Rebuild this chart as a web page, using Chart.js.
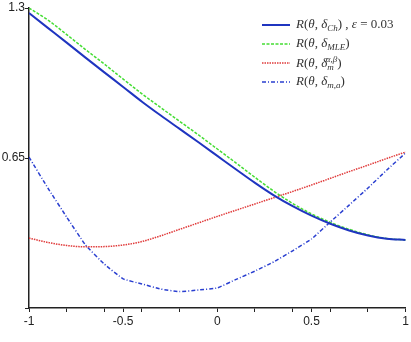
<!DOCTYPE html>
<html>
<head>
<meta charset="utf-8">
<script src="https://cdn.jsdelivr.net/npm/chart.js@4"></script>
<style>
  html, body { margin: 0; padding: 0; background: #fff; }
  #wrap { position: relative; width: 411px; height: 342px; overflow: hidden; }
  #legend { position: absolute; left: 262px; top: 15px; font-family: "Liberation Serif", serif; font-size: 13px; color: #333; }
  #legend .row { height: 19px; display: flex; align-items: center; white-space: nowrap; }
  #legend svg { margin-right: 6px; }
  #legend sub, #legend sup { font-size: 9px; }
  #legend sub { vertical-align: -3px; }
  #legend sup { vertical-align: 5px; }
</style>
</head>
<body>
<div id="wrap">
  <canvas id="chart" width="411" height="342"></canvas>
  <div id="legend">
    <div class="row"><svg width="28" height="4"><line x1="0" y1="2" x2="28" y2="2" stroke="#1f35c0" stroke-width="2"/></svg><span><i>R</i>(<i>θ</i>, <i>δ</i><sub><i>Ch</i></sub>) , <i>ε</i> = 0.03</span></div>
    <div class="row"><svg width="28" height="4"><line x1="0" y1="2" x2="28" y2="2" stroke="#44dd33" stroke-width="1.5" stroke-dasharray="3,1.5"/></svg><span><i>R</i>(<i>θ</i>, <i>δ</i><sub><i>MLE</i></sub>)</span></div>
    <div class="row"><svg width="28" height="4"><line x1="0" y1="2" x2="28" y2="2" stroke="#e03a3a" stroke-width="1.5" stroke-dasharray="1.5,1"/></svg><span><i>R</i>(<i>θ</i>, <i>δ</i><sub><i>m</i></sub><sup style="margin-left:-8px"><i>α</i>,<i>β</i></sup>)</span></div>
    <div class="row"><svg width="28" height="4"><line x1="0" y1="2" x2="28" y2="2" stroke="#2a3fd0" stroke-width="1.5" stroke-dasharray="4,2,1,2"/></svg><span><i>R</i>(<i>θ</i>, <i>δ</i><sub><i>m</i>,<i>a</i></sub>)</span></div>
  </div>
</div>
<script>
const theta = [-1, -0.9, -0.8, -0.7, -0.6, -0.5, -0.4, -0.3, -0.2, -0.1, 0, 0.1, 0.2, 0.3, 0.4, 0.5, 0.6, 0.7, 0.8, 0.9, 1];
const riskCh = [1.278, 1.214, 1.150, 1.085, 1.021, 0.958, 0.894, 0.834, 0.776, 0.718, 0.659, 0.600, 0.542, 0.488, 0.441, 0.400, 0.365, 0.336, 0.314, 0.300, 0.295];
const riskMLE = [1.300, 1.248, 1.185, 1.120, 1.057, 0.992, 0.928, 0.868, 0.809, 0.750, 0.689, 0.628, 0.566, 0.506, 0.453, 0.408, 0.371, 0.341, 0.317, 0.301, 0.295];
const riskBayes = [0.303, 0.284, 0.271, 0.265, 0.266, 0.273, 0.288, 0.313, 0.341, 0.369, 0.397, 0.424, 0.451, 0.478, 0.505, 0.533, 0.562, 0.591, 0.619, 0.648, 0.676];
const riskMa = [0.654, 0.520, 0.394, 0.273, 0.190, 0.126, 0.104, 0.082, 0.071, 0.078, 0.087, 0.124, 0.160, 0.200, 0.248, 0.299, 0.373, 0.446, 0.520, 0.598, 0.672];

const xTicks = [-1, -0.8, -0.6, -0.5, -0.4, -0.2, 0, 0.2, 0.4, 0.5, 0.6, 0.8, 1];
const xLabels = [-1, -0.5, 0, 0.5, 1];
const yTicks = [0, 0.65, 1.3];

function pts(ys) {
  return theta.map((t, i) => ({ x: t, y: ys[i] }));
}

const ctx = document.getElementById("chart").getContext("2d");
new Chart(ctx, {
  type: 'line',
  data: {
    datasets: [
      { label: 'Ch', data: pts(riskCh), borderColor: '#1f35c0', borderWidth: 2, cubicInterpolationMode: 'monotone' },
      { label: 'MLE', data: pts(riskMLE), borderColor: '#44dd33', borderWidth: 1.5, borderDash: [3, 1.5], cubicInterpolationMode: 'monotone' },
      { label: 'Bayes', data: pts(riskBayes), borderColor: '#e03a3a', borderWidth: 1.5, borderDash: [1.5, 1], cubicInterpolationMode: 'monotone' },
      { label: 'ma', data: pts(riskMa), borderColor: '#2a3fd0', borderWidth: 1.5, borderDash: [4, 2, 1, 2], tension: 0.1 }
    ]
  },
  options: {
    responsive: false,
    animation: false,
    layout: { padding: { top: 8, right: 3, left: 0, bottom: 0 } },
    elements: { point: { radius: 0 } },
    plugins: { legend: { display: false }, tooltip: { enabled: false } },
    scales: {
      x: {
        type: 'linear',
        min: -1,
        max: 1,
        afterBuildTicks: s => { s.ticks = xTicks.map(v => ({ value: v })); },
        afterFit: s => { s.height = 34; },
        ticks: {
          autoSkip: false,
          maxRotation: 0,
          padding: 2,
          color: '#222',
          font: { family: 'Liberation Sans', size: 12 },
          callback: v => xLabels.includes(v) ? String(v) : ''
        },
        grid: { drawOnChartArea: false, drawTicks: true, tickLength: 4, color: '#222', lineWidth: 1 },
        border: { display: true, color: '#222', width: 1.5 }
      },
      y: {
        min: 0,
        max: 1.3,
        afterBuildTicks: s => { s.ticks = yTicks.map(v => ({ value: v })); },
        afterFit: s => { s.width = 29; },
        ticks: {
          padding: 0,
          color: '#222',
          font: { family: 'Liberation Sans', size: 12 },
          callback: v => v === 0 ? '' : String(v)
        },
        grid: { drawOnChartArea: false, drawTicks: true, tickLength: 4, color: '#222', lineWidth: 1 },
        border: { display: true, color: '#222', width: 1.5 }
      }
    }
  }
});
</script>
</body>
</html>
